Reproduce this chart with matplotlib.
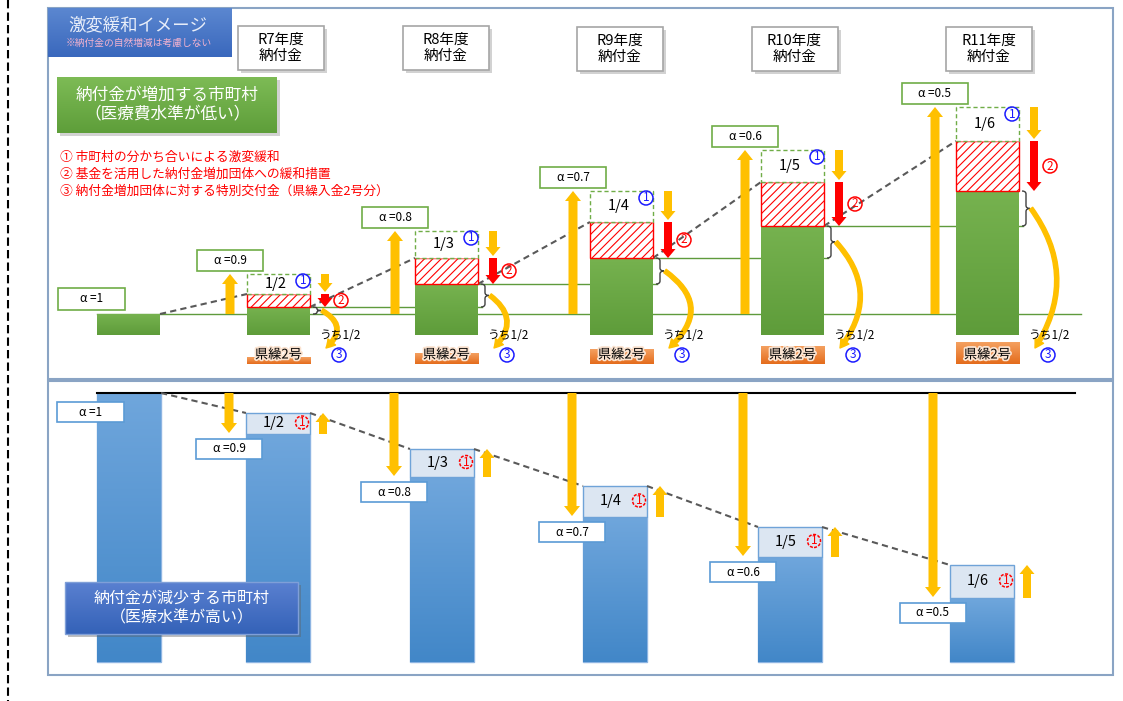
import matplotlib
matplotlib.use('Agg')
import matplotlib.pyplot as plt
import matplotlib.colors as mcolors
import matplotlib.patheffects as pe
from matplotlib.patches import Rectangle, Circle, FancyArrow, FancyArrowPatch, PathPatch
from matplotlib.path import Path
import numpy as np

plt.rcParams['font.family'] = ['Noto Sans CJK JP', 'DejaVu Sans']
plt.rcParams['hatch.linewidth'] = 0.8

# ---- データ（図から読み取り、単位は任意） ----
years = ['R7', 'R8', 'R9', 'R10', 'R11']
alpha = [1.0, 0.9, 0.8, 0.7, 0.6, 0.5]          # 先頭は R6（基準）
share = ['1/2', '1/3', '1/4', '1/5', '1/6']
# 納付金が増加する市町村
inc_paid = [21, 28, 51, 77, 109, 144]          # 緩和後の納付金（先頭は基準年）
inc_after1 = [41, 77, 113, 153, 194]           # ①のみ適用後
inc_full = [61, 104, 144, 185, 228]            # 緩和なし
# 納付金が減少する市町村
dec_paid = [269, 249, 213, 176, 135, 97]       # ①適用後（先頭は基準年）
dec_full = [228, 185, 145, 105, 64]            # 緩和なし

legend_lines = ['① 市町村の分かち合いによる激変緩和',
                '② 基金を活用した納付金増加団体への緩和措置',
                '③ 納付金増加団体に対する特別交付金（県繰入金2号分）']

# ---- レイアウト ----
W, H = 1123, 701
inc_base = 335      # 上段の棒の下端 (px)
dec_base = 662      # 下段の棒の下端 (px)
inc_left = [97, 247, 415, 590, 761, 956]
dec_left = [97, 246, 410, 583, 758, 950]
bw_up, bw_dn = 63, 64
inc_arrow_x = [230, 395, 573, 745, 935]
dec_arrow_x = [229, 394, 572, 743, 933]
pref_top = [-22, -18, -14, -11, -7]
curve_bulge = [13, 15, 24, 22, 24]

YEL = '#ffc000'
RED = '#ff0000'
BLUE_TXT = '#1a1aff'


def gradient(a, x, y, w, h, c0, c1, z):
    c0 = np.array(mcolors.to_rgb(c0))
    c1 = np.array(mcolors.to_rgb(c1))
    t = np.linspace(0, 1, 64)[:, None, None]
    img = c0 + (c1 - c0) * t
    a.imshow(img, extent=(x, x + w, y, y + h), origin='lower', aspect='auto',
             zorder=z, interpolation='bilinear')


def label_box(a, cx, y, w, h, text, ec, fs=8.5):
    a.add_patch(Rectangle((cx - w / 2, y), w, h, facecolor='white', edgecolor=ec, lw=1.2, zorder=6))
    a.text(cx, y + h / 2, text, ha='center', va='center', fontsize=fs, zorder=7)


def circ_num(a, x, y, n, color, r=7, dotted=False):
    a.add_patch(Circle((x, y), r, facecolor='none', edgecolor=color, lw=1.1,
                       linestyle=(0, (2, 1)) if dotted else '-', zorder=7))
    a.text(x, y, str(n), ha='center', va='center', fontsize=8.5, color=color, zorder=7)


def arrow(a, x, y0, y1, color, w=8, hw=15, hl=9, z=5):
    a.add_patch(FancyArrow(x, y0, 0, y1 - y0, width=w, head_width=hw, head_length=hl,
                           length_includes_head=True, facecolor=color, edgecolor='none', zorder=z))


def brace(a, x, y0, y1, w=8):
    ym = (y0 + y1) / 2
    r = min(3, (y1 - y0) / 4)
    xm = x + w / 2
    verts = [(x, y1), (xm, y1), (xm, y1 - r), (xm, ym + r), (xm, ym), (x + w, ym),
             (xm, ym), (xm, ym - r), (xm, y0 + r), (xm, y0), (x, y0)]
    codes = [Path.MOVETO, Path.CURVE3, Path.CURVE3, Path.LINETO, Path.CURVE3, Path.CURVE3,
             Path.CURVE3, Path.CURVE3, Path.LINETO, Path.CURVE3, Path.CURVE3]
    a.add_patch(PathPatch(Path(verts, codes), facecolor='none', edgecolor='#404040', lw=1, zorder=6))


fig = plt.figure(figsize=(W / 100, H / 100), dpi=100)
ax_up = fig.add_axes([0, 0, 1, 1])
ax_dn = fig.add_axes([0, 0, 1, 1])
ax = fig.add_axes([0, 0, 1, 1])
ax.set_zorder(5)
for a in (ax_up, ax_dn, ax):
    a.axis('off')
    a.patch.set_visible(False)

# ================= 上段：納付金が増加する市町村 =================
right_up = [l + bw_up for l in inc_left]

# 基準線と各年度の水準線
ax_up.plot([inc_left[0], right_up[-1] + 62], [inc_paid[0]] * 2, color='#5f9a3c', lw=1, zorder=1)
for i in range(1, 5):
    ax_up.plot([right_up[i], right_up[i + 1] + 4], [inc_paid[i]] * 2, color='#5f9a3c', lw=1, zorder=1)

bars = ax_up.bar(inc_left, inc_paid, width=bw_up, align='edge', color='#6aa84f', zorder=2)
for b in bars:
    gradient(ax_up, b.get_x(), b.get_y(), b.get_width(), b.get_height(), '#5e9c3a', '#76b24f', 2.1)

ax_up.bar(inc_left[1:], np.subtract(inc_after1, inc_paid[1:]), bottom=inc_paid[1:], width=bw_up,
          align='edge', facecolor='white', edgecolor=RED, hatch='////', lw=1, zorder=3)
ax_up.bar(inc_left[1:], np.subtract(inc_full, inc_after1), bottom=inc_after1, width=bw_up,
          align='edge', facecolor='white', edgecolor='#70ad47', linestyle=(0, (3, 2)), lw=1, zorder=3)

# 点線（緩和前の推移）
for i in range(5):
    ax_up.plot([right_up[i], inc_left[i + 1]], [inc_paid[i], inc_after1[i]],
               color='#595959', lw=1.5, dashes=(3, 2), zorder=1.5)

label_box(ax_up, 91.5, inc_paid[0] + 4, 67, 22, 'α =1', '#70ad47')
for i in range(5):
    l, r = inc_left[i + 1], right_up[i + 1]
    cx = (l + r) / 2
    # α上矢印とラベル
    arrow(ax_up, inc_arrow_x[i], inc_paid[0], inc_full[i], YEL, w=9, hw=16, hl=10)
    label_box(ax_up, inc_arrow_x[i], inc_full[i] + 3, 66, 21, 'α =%g' % alpha[i + 1], '#70ad47')
    # 1/n
    ax_up.text(cx - 3, (inc_full[i] + inc_after1[i]) / 2, share[i], ha='center', va='center',
               fontsize=10.5, zorder=7)
    circ_num(ax_up, r - 7, inc_full[i] - 7, 1, BLUE_TXT)
    # ①②矢印
    ax_x = r + 15
    arrow(ax_up, ax_x, inc_full[i], inc_after1[i] + 2, YEL, w=8, hw=15, hl=9)
    arrow(ax_up, ax_x, inc_after1[i], inc_paid[i + 1], RED, w=8, hw=15, hl=9)
    circ_num(ax_up, r + 31, (inc_after1[i] + inc_paid[i + 1]) / 2, 2, RED)
    # 括弧と③
    brace(ax_up, r + 3, inc_paid[i], inc_paid[i + 1])
    ym = (inc_paid[i] + inc_paid[i + 1]) / 2
    yA, yB = ym, -13
    rad = -2 * curve_bulge[i] / (yA - yB)
    ax_up.add_patch(FancyArrowPatch((r + 12, yA), (r + 16, yB), connectionstyle='arc3,rad=%.2f' % rad,
                                    arrowstyle='simple,head_width=7,head_length=6,tail_width=3',
                                    color=YEL, shrinkA=0, shrinkB=0, mutation_scale=1, zorder=6))
    ax_up.text(r + 30, -1, 'うち1/2', ha='center', va='center', fontsize=8.5, zorder=7)
    circ_num(ax_up, r + 29, -20, 3, BLUE_TXT)
    # 県繰2号
    ph = pref_top[i] + 29
    gradient(ax_up, l, -29, bw_up + 1, ph, '#e46c1c', '#f4a060', 4)
    ax_up.text(cx, -20, '県繰2号', ha='center', va='center', fontsize=9.5, zorder=7,
               path_effects=[pe.withStroke(linewidth=2.5, foreground='#fbe3d0')])

# ================= 下段：納付金が減少する市町村 =================
right_dn = [l + bw_dn for l in dec_left]
ax_dn.plot([dec_left[0], 1075], [dec_paid[0]] * 2, color='black', lw=1.5, zorder=4)

blue_h = [dec_paid[0]] + dec_full
bars = ax_dn.bar(dec_left, blue_h, width=bw_dn, align='edge', color='#5b9bd5',
                 edgecolor='#8db4e2', lw=1, zorder=2)
for b in bars:
    gradient(ax_dn, b.get_x(), b.get_y(), b.get_width(), b.get_height(), '#4287c8', '#6fa6dc', 2.1)
ax_dn.bar(dec_left[1:], np.subtract(dec_paid[1:], dec_full), bottom=dec_full, width=bw_dn,
          align='edge', facecolor='#dce6f2', edgecolor='#6fa3d8', lw=1, zorder=3)

for i in range(5):
    ax_dn.plot([right_dn[i], dec_left[i + 1]], [dec_paid[i], dec_paid[i + 1]],
               color='#595959', lw=1.5, dashes=(3, 2), zorder=4)

label_box(ax_dn, 90.5, dec_paid[0] - 29, 67, 20, 'α =1', '#5b9bd5')
for i in range(5):
    l, r = dec_left[i + 1], right_dn[i + 1]
    cx = (l + r) / 2
    arrow(ax_dn, dec_arrow_x[i], dec_paid[0], dec_full[i] + 1, YEL, w=9, hw=16, hl=10)
    label_box(ax_dn, dec_arrow_x[i], dec_full[i] - 25, 66, 20, 'α =%g' % alpha[i + 1], '#5b9bd5')
    ym = (dec_paid[i + 1] + dec_full[i]) / 2
    ax_dn.text(cx - 4, ym, share[i], ha='center', va='center', fontsize=10.5, zorder=7)
    circ_num(ax_dn, r - 8, ym + 1, 1, RED, r=6.5, dotted=True)
    arrow(ax_dn, r + 13, dec_full[i], dec_paid[i + 1], YEL, w=8, hw=15, hl=9)

# ================= 装飾 =================
ax.plot([8, 8], [0, H], color='black', lw=1.5, dashes=(4, 2))
ax.add_patch(Rectangle((48, 8), 1065, 371, fill=False, edgecolor='#8aa4c4', lw=1.5))
ax.add_patch(Rectangle((48, 381), 1065, 294, fill=False, edgecolor='#8aa4c4', lw=1.5))

# タイトル
gradient(ax, 48, 8, 184, 49, '#5b87d0', '#3a68bd', 3)
ax.text(138, 25, '激変緩和イメージ', ha='center', va='center', fontsize=12.5, color='#e8eef9', zorder=4)
ax.text(139, 43, '※納付金の自然増減は考慮しない', ha='center', va='center', fontsize=7,
        color='#f2b2cf', zorder=4)

# 年度ラベル
hdr_cx = [281, 445.5, 620, 794.5, 988.5]
hdr_top = [26, 26, 27, 27, 27]
for i, y in enumerate(years):
    ax.add_patch(Rectangle((hdr_cx[i] - 43 + 3, hdr_top[i] + 3), 86, 44, facecolor='#808080',
                           alpha=0.35, edgecolor='none', zorder=2))
    ax.add_patch(Rectangle((hdr_cx[i] - 43, hdr_top[i]), 86, 44, facecolor='white',
                           edgecolor='#a6a6a6', lw=1.2, zorder=3))
    ax.text(hdr_cx[i], hdr_top[i] + 22, y + '年度\n納付金', ha='center', va='center',
            fontsize=10.5, linespacing=1.2, zorder=4)

# 増加する市町村ラベル
ax.add_patch(Rectangle((60, 80), 220, 56, facecolor='#808080', alpha=0.35, edgecolor='none', zorder=2))
gradient(ax, 57, 77, 220, 56, '#7dbb55', '#5e9e3a', 3)
ax.text(167, 105, '納付金が増加する市町村\n（医療費水準が低い）', ha='center', va='center',
        fontsize=12, color='white', linespacing=1.2, zorder=4)

# 減少する市町村ラベル
ax.add_patch(Rectangle((68, 585), 233, 52, facecolor='#606060', alpha=0.4, edgecolor='none', zorder=2))
gradient(ax, 65, 582, 233, 52, '#5a80d0', '#3462b8', 3)
ax.add_patch(Rectangle((65, 582), 233, 52, fill=False, edgecolor='#7f9fd8', lw=1, zorder=3.5))
ax.text(181.5, 608, '納付金が減少する市町村\n（医療水準が高い）', ha='center', va='center',
        fontsize=11.5, color='white', linespacing=1.15, zorder=4)

# 凡例（赤字）
for k, line in enumerate(legend_lines):
    ax.text(60, 157 + 17 * k, line, ha='left', va='center', fontsize=9.2, color=RED, zorder=4)

for a in (ax_up, ax_dn):
    a.set_xlim(0, W)
ax_up.set_ylim(inc_base - H, inc_base)
ax_dn.set_ylim(dec_base - H, dec_base)
ax.set_xlim(0, W)
ax.set_ylim(H, 0)

fig.savefig('out.png', dpi=100, facecolor='white')
